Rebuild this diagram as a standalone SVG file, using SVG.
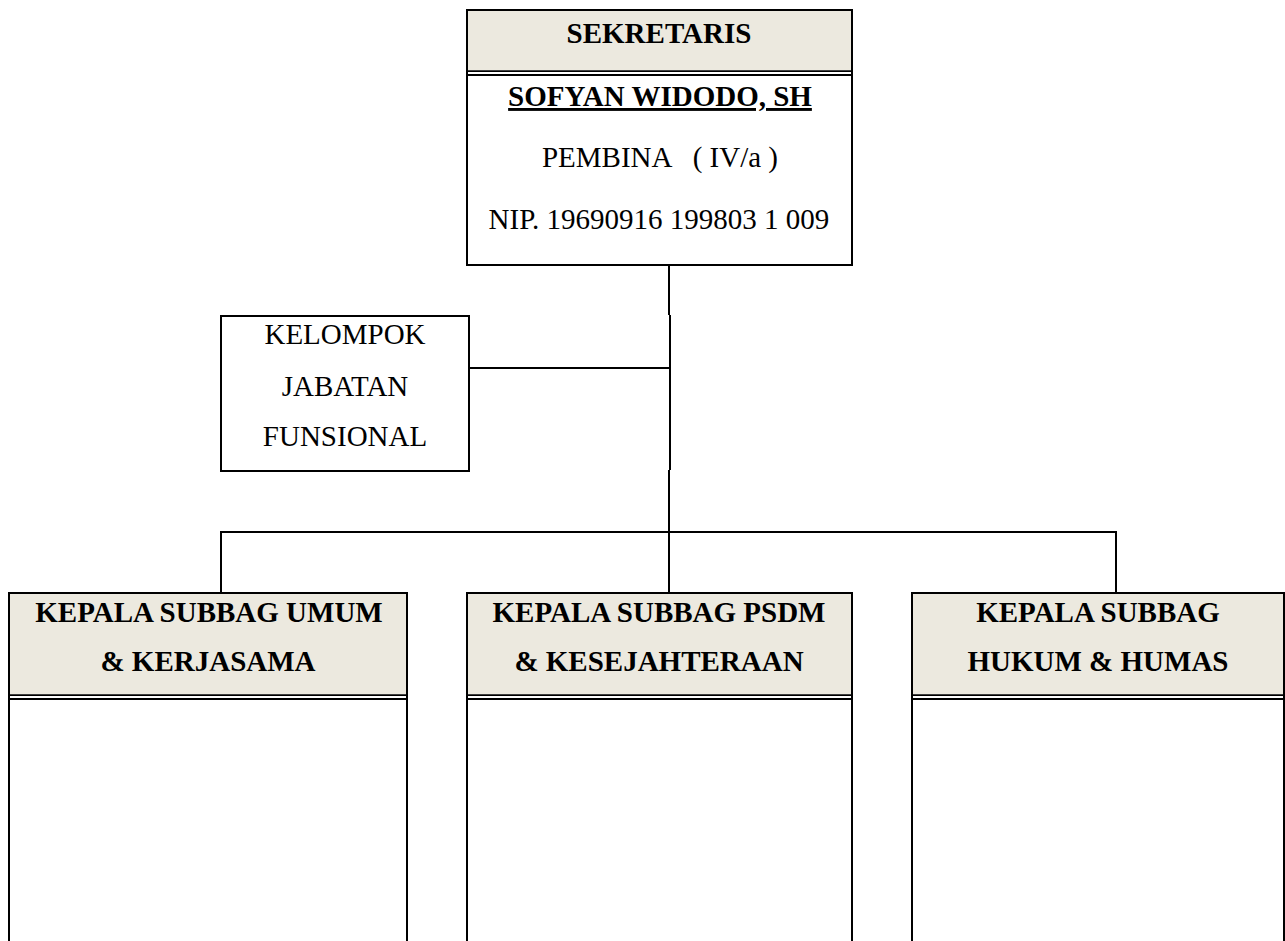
<svg xmlns="http://www.w3.org/2000/svg" width="1285" height="941" viewBox="0 0 1285 941">
<style>
.box{fill:#fff;stroke:#000;stroke-width:2}
.hdr{fill:#ECE9DF;stroke:none}
.ln{stroke:#000;stroke-width:2;fill:none}
.dl{stroke:#000;stroke-width:1.8}
text{font-family:"Liberation Serif","Times New Roman",serif;font-size:29px;fill:#000;text-anchor:middle}
.b{font-weight:bold}
</style>
<rect width="1285" height="941" fill="#fff"/>
<g id="connectors">
<path class="ln" d="M669 265 V315 M670 315 V470 M669 470 V593"/>
<path class="ln" d="M469 368 H670"/>
<path class="ln" d="M221 593 V532 H1116 V593"/>
</g>
<g id="sekretaris">
<rect class="box" x="467" y="10" width="385" height="255"/>
<rect class="hdr" x="468" y="11" width="383" height="59"/>
<line class="dl" x1="467" y1="71.2" x2="852" y2="71.2"/>
<line class="dl" x1="467" y1="75" x2="852" y2="75"/>
<text class="b" x="659" y="43">SEKRETARIS</text>
<text class="b" x="660" y="106" text-decoration="underline">SOFYAN WIDODO, SH</text>
<text x="660" y="167" xml:space="preserve">PEMBINA   ( IV/a )</text>
<text x="659" y="229">NIP. 19690916 199803 1 009</text>
</g>
<g id="kelompok">
<rect class="box" x="221" y="316" width="248" height="155"/>
<text x="345" y="344">KELOMPOK</text>
<text x="345" y="396">JABATAN</text>
<text x="345" y="446">FUNSIONAL</text>
</g>
<g id="umum">
<path class="ln" d="M9 945 V593 H407 V945"/>
<rect class="hdr" x="10" y="594" width="396" height="100"/>
<line class="dl" x1="9" y1="695.2" x2="407" y2="695.2"/>
<line class="dl" x1="9" y1="699" x2="407" y2="699"/>
<text class="b" x="209" y="622">KEPALA SUBBAG UMUM</text>
<text class="b" x="208" y="671">&amp; KERJASAMA</text>
</g>
<g id="psdm">
<path class="ln" d="M467 945 V593 H852 V945"/>
<rect class="hdr" x="468" y="594" width="383" height="100"/>
<line class="dl" x1="467" y1="695.2" x2="852" y2="695.2"/>
<line class="dl" x1="467" y1="699" x2="852" y2="699"/>
<text class="b" x="659" y="622">KEPALA SUBBAG PSDM</text>
<text class="b" x="659" y="671">&amp; KESEJAHTERAAN</text>
</g>
<g id="hukum">
<path class="ln" d="M912 945 V593 H1284 V945"/>
<rect class="hdr" x="913" y="594" width="370" height="100"/>
<line class="dl" x1="912" y1="695.2" x2="1284" y2="695.2"/>
<line class="dl" x1="912" y1="699" x2="1284" y2="699"/>
<text class="b" x="1098" y="622">KEPALA SUBBAG</text>
<text class="b" x="1098" y="671">HUKUM &amp; HUMAS</text>
</g>
</svg>
